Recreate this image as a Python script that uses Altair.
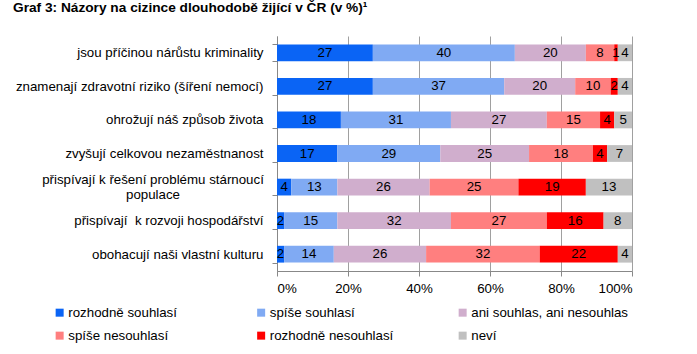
import altair as alt
import pandas as pd

items = [
    "jsou příčinou nárůstu kriminality",
    "znamenají zdravotní riziko (šíření nemocí)",
    "ohrožují náš způsob života",
    "zvyšují celkovou nezaměstnanost",
    "přispívají k řešení problému stárnoucí|populace",
    "přispívají \u00a0k rozvoji hospodářství",
    "obohacují naši vlastní kulturu",
]
categories = [
    "rozhodně souhlasí",
    "spíše souhlasí",
    "ani souhlas, ani nesouhlas",
    "spíše nesouhlasí",
    "rozhodně nesouhlasí",
    "neví",
]
colors = ["#0A64F5", "#80AAF3", "#D0AECD", "#FF7F7F", "#FF0000", "#C0C0C0"]

rozhodne_souhlasi = [27, 27, 18, 17, 4, 2, 2]
spise_souhlasi = [40, 37, 31, 29, 13, 15, 14]
ani_ani = [20, 20, 27, 25, 26, 32, 26]
spise_nesouhlasi = [8, 10, 15, 18, 25, 27, 32]
rozhodne_nesouhlasi = [1, 2, 4, 4, 19, 16, 22]
nevi = [4, 4, 5, 7, 13, 8, 4]

series = [rozhodne_souhlasi, spise_souhlasi, ani_ani,
          spise_nesouhlasi, rozhodne_nesouhlasi, nevi]

rows = []
for ci, (cat, vals) in enumerate(zip(categories, series)):
    for item, v in zip(items, vals):
        rows.append({"item": item, "cat": cat, "order": ci, "value": v})
df = pd.DataFrame(rows)

FONT = "Liberation Sans"
FS = 13.3
MULTI = "indexof(datum.label, '|') >= 0"

base = alt.Chart(df).transform_stack(
    stack="value", as_=["v0", "v1"], groupby=["item"],
    sort=[alt.SortField("order", order="ascending")]
).transform_calculate(mid="(datum.v0 + datum.v1) / 2")

y_enc = alt.Y(
    "item:N", sort=items, title=None,
    scale=alt.Scale(paddingInner=0.5, paddingOuter=0.25),
    axis=alt.Axis(
        labelExpr="split(datum.label, '|')", labelLineHeight=15,
        labelOffset={"condition": {"test": MULTI, "value": -7.5}, "value": 0},
        labelAlign={"condition": {"test": MULTI, "value": "center"},
                    "value": "right"},
        labelPadding={"condition": {"test": MULTI, "value": 119.5},
                      "value": 9},
        labelFont=FONT, labelFontSize=FS, labelColor="#000000",
        labelLimit=300, tickSize=5, tickBand="extent",
        tickColor="#888888", domainColor="#888888",
    ),
)

bars = base.mark_bar().encode(
    x=alt.X(
        "v0:Q", title=None,
        scale=alt.Scale(domain=[0, 100], nice=False),
        axis=alt.Axis(
            values=[0, 20, 40, 60, 80, 100], labelExpr="datum.value + '%'",
            labelFont=FONT, labelFontSize=FS, labelColor="#000000",
            labelPadding=5, tickSize=5, tickColor="#888888",
            domainColor="#888888", grid=True, gridColor="#A0A0A0",
        ),
    ),
    x2="v1:Q",
    y=y_enc,
    color=alt.Color(
        "cat:N", title=None,
        scale=alt.Scale(domain=categories, range=colors),
        legend=alt.Legend(
            orient="none", legendX=-224, legendY=270, columns=3,
            direction="horizontal", gridAlign="all", columnPadding=28.5,
            rowPadding=9, symbolType="square", symbolSize=64,
            symbolStrokeWidth=0, labelOffset=2, labelFont=FONT,
            labelFontSize=FS, labelColor="#000000", padding=0,
            labelLimit=300,
        ),
    ),
)

texts = base.mark_text(font=FONT, fontSize=FS, color="#000000").encode(
    x="mid:Q",
    y=alt.Y("item:N", sort=items),
    text="value:Q",
)

chart = alt.layer(bars, texts).properties(
    width=355,
    height=235,
    autosize=alt.AutoSizeParams(type="none"),
    padding={"left": 277, "top": 36, "right": 65, "bottom": 83},
    title=alt.TitleParams(
        "Graf 3: Názory na cizince dlouhodobě žijící v ČR (v %)¹",
        anchor="start", frame="group", dx=-264, offset=14,
        font=FONT, fontSize=13.7, fontWeight="bold", color="#000000",
    ),
).configure_view(stroke=None)

chart.save("out.html", embed_options={"renderer": "svg", "actions": False})
